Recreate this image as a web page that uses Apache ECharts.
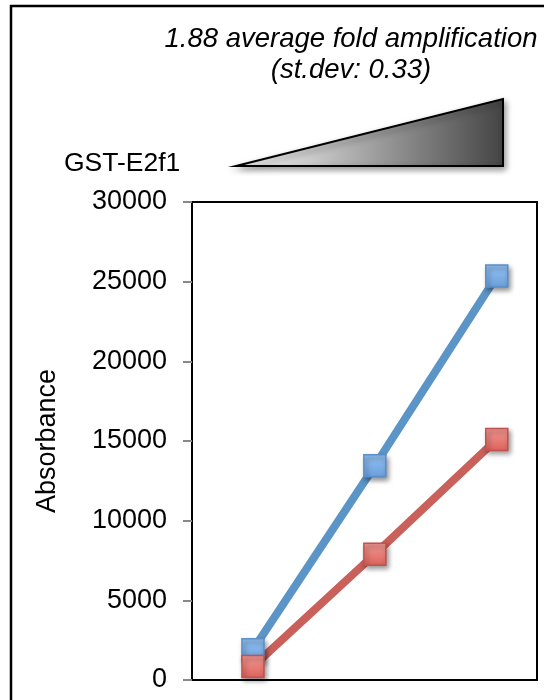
<!DOCTYPE html>
<html>
<head>
<meta charset="utf-8">
<script src="https://cdn.jsdelivr.net/npm/echarts@6/dist/echarts.min.js"></script>
<style>
  html, body { margin: 0; padding: 0; background: #fff; }
  #chart { width: 544px; height: 700px; }
</style>
</head>
<body>
<div id="chart"></div>
<script>
// GST-E2f1 dose steps (x positions) and absorbance readings
const doses = [1, 2, 3];
const blueValues = [1900, 13450, 25350];
const redValues = [850, 7900, 15100];
const yTicks = { min: 0, max: 30000, step: 5000 };

const font = "'Liberation Sans', Arial, sans-serif";

function markerStyle(top, bottom, border) {
  return {
    color: new echarts.graphic.LinearGradient(0, 0, 0, 1, [
      { offset: 0, color: top },
      { offset: 1, color: bottom }
    ]),
    borderColor: border,
    borderWidth: 1.5,
    shadowBlur: 5,
    shadowOffsetX: 2,
    shadowOffsetY: 3,
    shadowColor: "rgba(0,0,0,0.45)"
  };
}

const chart = echarts.init(document.getElementById("chart"));
chart.setOption({
  animation: false,
  grid: {
    left: 192, top: 202, width: 345, height: 478,
    show: true, borderColor: "#000", borderWidth: 2, backgroundColor: "transparent"
  },
  xAxis: {
    type: "value", min: 0.5, max: 3.33,
    axisLine: { show: false }, axisTick: { show: false },
    axisLabel: { show: false }, splitLine: { show: false }
  },
  yAxis: {
    type: "value", min: yTicks.min, max: yTicks.max, interval: yTicks.step,
    name: "Absorbance", nameLocation: "middle", nameRotate: 90, nameGap: 131,
    nameTextStyle: { fontFamily: font, fontSize: 27, color: "#000" },
    axisLine: { show: false },
    axisTick: { show: true, length: 9, lineStyle: { color: "#888", width: 2 } },
    axisLabel: {
      fontFamily: font, fontSize: 27, color: "#000", margin: 25,
      formatter: (v) => String(v)
    },
    splitLine: { show: false }
  },
  series: [
    {
      type: "line",
      data: doses.map((d, i) => [d, blueValues[i]]),
      symbol: "rect", symbolSize: 22,
      lineStyle: { color: "#5b94c6", width: 8 },
      itemStyle: markerStyle("#93c1f2", "#6a9fdc", "#5a8ec8")
    },
    {
      type: "line",
      data: doses.map((d, i) => [d, redValues[i]]),
      symbol: "rect", symbolSize: 22,
      lineStyle: { color: "#c9605a", width: 8 },
      itemStyle: markerStyle("#f29a94", "#dc625c", "#c4514c")
    }
  ],
  graphic: [
    {
      type: "rect", silent: true,
      shape: { x: 11, y: 6, width: 600, height: 800 },
      style: { fill: "none", stroke: "#000", lineWidth: 2.5 }
    },
    {
      type: "text", x: 351, y: 39,
      style: {
        text: "1.88 average fold amplification", fontFamily: font, fontSize: 27.5,
        fontStyle: "italic", fill: "#000", align: "center", verticalAlign: "middle"
      }
    },
    {
      type: "text", x: 351, y: 70,
      style: {
        text: "(st.dev: 0.33)", fontFamily: font, fontSize: 27.5,
        fontStyle: "italic", fill: "#000", align: "center", verticalAlign: "middle"
      }
    },
    {
      type: "text", x: 64, y: 164,
      style: {
        text: "GST-E2f1", fontFamily: font, fontSize: 26.5, fill: "#000",
        align: "left", verticalAlign: "middle"
      }
    },
    {
      type: "polygon",
      shape: { points: [[236, 166], [503, 99], [503, 166]] },
      style: {
        fill: new echarts.graphic.LinearGradient(0, 0, 1, 0, [
          { offset: 0, color: "#ffffff" },
          { offset: 1, color: "#444444" }
        ]),
        stroke: "#000", lineWidth: 2,
        shadowBlur: 6, shadowOffsetX: 2, shadowOffsetY: 3, shadowColor: "rgba(0,0,0,0.4)"
      }
    }
  ]
});
</script>
</body>
</html>
